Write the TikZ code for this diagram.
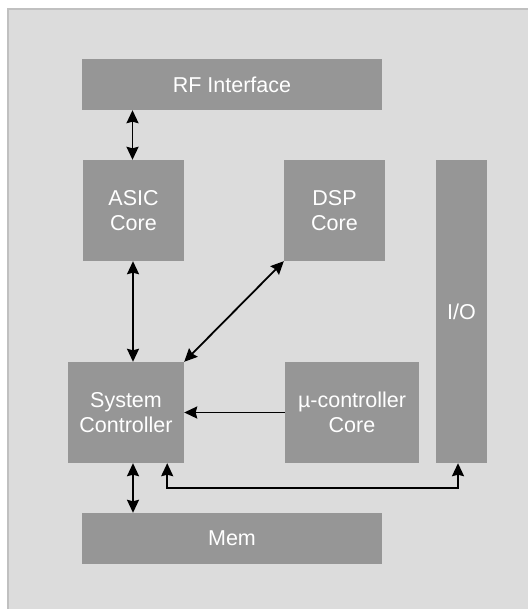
\documentclass[tikz,border=0pt]{standalone}
\usepackage{fontspec}
\setmainfont{Liberation Sans}
\usetikzlibrary{positioning,calc,arrows.meta}
\definecolor{panelgray}{HTML}{DCDCDC}
\definecolor{boxgray}{HTML}{969696}
\definecolor{rimgray}{HTML}{C0C0C0}
\tikzset{
    block/.style={fill=boxgray, text=white, align=center, inner sep=0pt,
        font=\fontsize{21.5}{25}\selectfont},
    link/.style={line width=1.8pt, >={Stealth[length=13pt,width=12pt,inset=1.5pt]}},
}

\begin{document}
\begin{tikzpicture}[x=1pt,y=-1pt]
    \useasboundingbox (0,0) rectangle (527,609);
    \fill[white] (0,0) rectangle (527,609);
    \draw[rimgray, fill=panelgray, line width=2pt] (8,9) rectangle (540,620);

    % blocks
    \node[block, minimum width=300pt, minimum height=51pt] (rf) at (232,84.5) {RF Interface};
    \node[block, minimum width=101pt, minimum height=101pt] (asic) at (133.5,210.5) {ASIC\\Core};
    \node[block, minimum width=101pt, minimum height=101pt] (dsp) at (334.5,210.5) {DSP\\Core};
    \node[block, minimum width=51pt, minimum height=303pt] (io) at (461.5,311.5) {I/O};
    \node[block, minimum width=116pt, minimum height=101pt] (sys) at (126,412.5) {System\\Controller};
    \node[block, minimum width=134pt, minimum height=101pt] (uctrl) at (352,412.5) {µ-controller\\Core};
    \node[block, minimum width=300pt, minimum height=51pt] (mem) at (232,538.5) {Mem};

    % connections
    \draw[link, <->] (rf.south -| 132.5,0) -- (asic.north -| 132.5,0);
    \draw[link, <->] (asic.south -| 133,0) -- (sys.north -| 133,0);
    \draw[link, <->] (dsp.south west) -- (sys.north east);
    \draw[link, ->] (uctrl.west) -- (sys.east);
    \draw[link, <->] (sys.south -| 133,0) -- (mem.north -| 133,0);
    \coordinate (busL) at ($(sys.south east)+(-17,0)$);
    \coordinate (busR) at ($(io.south)+(-3.5,0)$);
    \draw[link, <->] (busL) -- ++(0,25) -| (busR);
\end{tikzpicture}
\end{document}
